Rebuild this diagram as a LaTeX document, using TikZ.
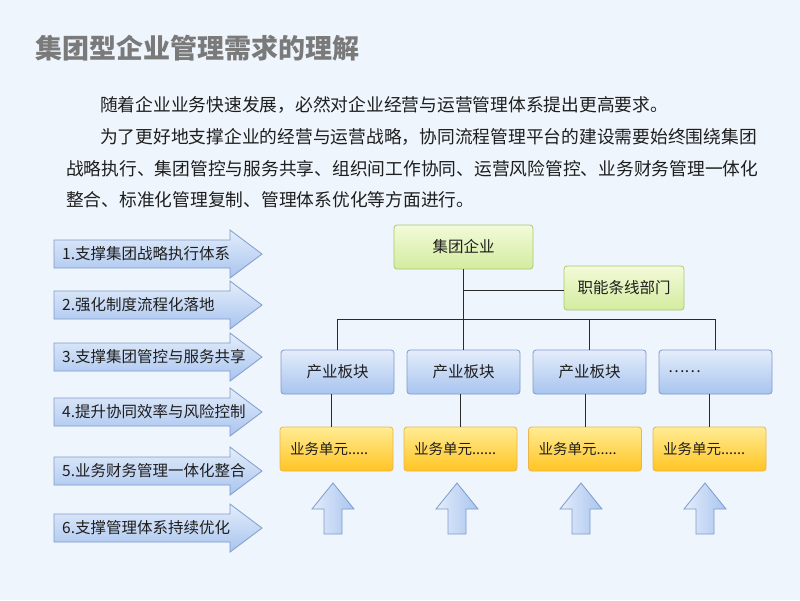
\documentclass[tikz,border=0pt]{standalone}
\usepackage{fontspec}
\setmainfont{Noto Sans CJK SC}
\definecolor{bgc}{HTML}{EEF5FC}
\definecolor{titlegray}{HTML}{7A7A7A}
\definecolor{txt}{HTML}{1E1E1E}
\definecolor{bluetop}{HTML}{E4EDFB}
\definecolor{bluebot}{HTML}{A8C4EF}
\definecolor{blueedge}{HTML}{7F9BCB}
\definecolor{greentop}{HTML}{F3FAD8}
\definecolor{greenbot}{HTML}{D3EC9F}
\definecolor{greenedge}{HTML}{A9C874}
\definecolor{orgtop}{HTML}{FFEC94}
\definecolor{orgbot}{HTML}{FFC423}
\definecolor{orgedge}{HTML}{EDB547}
\definecolor{linec}{HTML}{2A2A2A}
\begin{document}
\begin{tikzpicture}[x=1pt,y=-1pt,
  para/.style={anchor=west, inner sep=0pt, text=txt, font=\fontsize{17.75}{20}\selectfont},
  lbl/.style={anchor=west, inner sep=0pt, text=txt, font=\fontsize{15.5}{18}\selectfont},
  larrow/.style={top color=bluetop, bottom color=bluebot, draw=blueedge, line width=0.8pt},
  uparrow/.style={left color=bluetop, right color=bluebot, draw=blueedge, line width=0.8pt},
  boxbase/.style={rounded corners=3pt, line width=0.8pt, minimum height=44pt, inner sep=0pt, text=txt, font=\fontsize{15.5}{18}\selectfont},
  greenbox/.style={boxbase, top color=greentop, bottom color=greenbot, draw=greenedge},
  bluebox/.style={boxbase, top color=bluetop, bottom color=bluebot, draw=blueedge, minimum width=113pt},
  orgbox/.style={boxbase, top color=orgtop, bottom color=orgbot, draw=orgedge, text width=93pt, inner xsep=10pt, align=left, font=\fontsize{14.5}{17}\selectfont},
  conn/.style={draw=linec, line width=0.9pt}
]
\fill[bgc] (0,0) rectangle (800,600);
\useasboundingbox (0,0) rectangle (800,600);

% title
\node[anchor=west, inner sep=0pt, text=titlegray, font=\fontsize{27}{30}\selectfont\bfseries] (title) at (35,48) {集团型企业管理需求的理解};

% paragraph
\node[para] (p1) at (100,105) {随着企业业务快速发展，必然对企业经营与运营管理体系提出更高要求。};
\node[para] (p2) at (100,137) {为了更好地支撑企业的经营与运营战略，协同流程管理平台的建设需要始终围绕集团};
\node[para] (p3) at (66,169) {战略执行、集团管控与服务共享、组织间工作协同、运营风险管控、业务财务管理一体化};
\node[para] (p4) at (66,200) {整合、标准化管理复制、管理体系优化等方面进行。};

% left arrows
\foreach \yy/\t [count=\i] in {254/1.支撑集团战略执行体系, 305/2.强化制度流程化落地, 357/3.支撑集团管控与服务共享, 412/4.提升协同效率与风险控制, 471/5.业务财务管理一体化整合, 528/6.支撑管理体系持续优化}{
  \path[larrow] (54,\yy-14) -- (230,\yy-14) -- (230,\yy-24) -- (262,\yy) -- (230,\yy+24) -- (230,\yy+14) -- (54,\yy+14) -- cycle;
  \node[lbl] (arr\i) at (62,\yy) {\t};
}

% org chart
\node[greenbox, minimum width=139pt] (grp) at (463.5,247) {集团企业};
\node[greenbox, minimum width=120pt] (func) at (624,288) {职能条线部门};

\node[bluebox] (cy1) at (337.5,372) {产业板块};
\node[bluebox] (cy2) at (463.5,372) {产业板块};
\node[bluebox] (cy3) at (589.5,372) {产业板块};
\node[bluebox, text width=95pt, inner xsep=9pt, align=left, minimum width=0pt] (cy4) at (715.5,372) {……};

\node[orgbox] (yw1) at (336.5,449) {业务单元.....};
\node[orgbox] (yw2) at (460.5,449) {业务单元......};
\node[orgbox] (yw3) at (585,449) {业务单元.....};
\node[orgbox] (yw4) at (709.5,449) {业务单元......};

\coordinate (bus) at (0,319);
\draw[conn] (grp.south) -- (cy2.north);
\draw[conn] ([yshift=-2pt]grp.south |- func.west) -- ([yshift=-2pt]func.west);
\draw[conn] (cy1.north) -- (cy1.north |- bus) -- (cy4.north |- bus) -- (cy4.north);
\draw[conn] (cy3.north) -- (cy3.north |- bus);
\draw[conn] ([xshift=-5pt]yw1.north) -- ([xshift=-5pt]yw1.north |- cy1.south);
\draw[conn] (yw2.north) -- (yw2.north |- cy2.south);
\draw[conn] (yw3.north) -- (yw3.north |- cy3.south);
\draw[conn] (yw4.north) -- (yw4.north |- cy4.south);

% up arrows
\foreach \cx in {333,457,581,705}{
  \path[uparrow] (\cx,483) -- (\cx+21,509) -- (\cx+9,509) -- (\cx+9,534) -- (\cx-9,534) -- (\cx-9,509) -- (\cx-21,509) -- cycle;
}
\end{tikzpicture}
\end{document}
